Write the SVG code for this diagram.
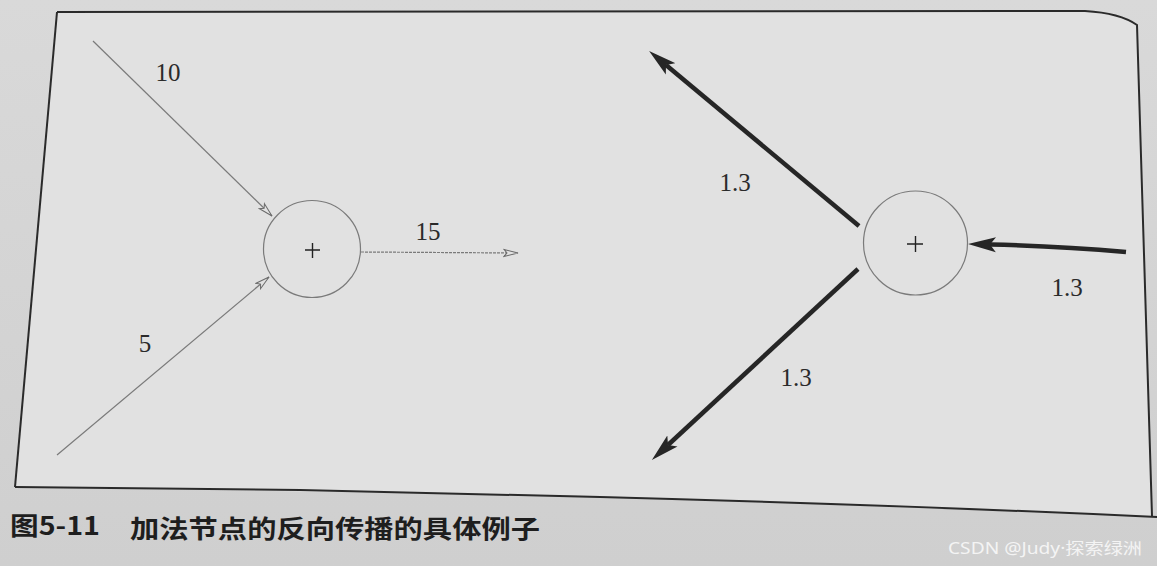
<svg xmlns="http://www.w3.org/2000/svg" width="1157" height="566" viewBox="0 0 1157 566">
  <defs>
    <linearGradient id="bg" x1="0" y1="0" x2="0" y2="1">
      <stop offset="0" stop-color="#d9d9d9"/>
      <stop offset="1" stop-color="#cfcfcf"/>
    </linearGradient>
    <marker id="open" viewBox="0 0 16 10" refX="15" refY="5" markerWidth="16" markerHeight="10" markerUnits="userSpaceOnUse" orient="auto">
      <path d="M1,1.5 L15,5 L1,8.5 L4,5 Z" fill="#e2e2e2" stroke="#6a6a6a" stroke-width="1"/>
    </marker>
    <marker id="solid" viewBox="0 0 28 16" refX="6" refY="8" markerWidth="28" markerHeight="16" markerUnits="userSpaceOnUse" orient="auto">
      <path d="M0,0.5 L28,8 L0,15.5 L6,8 Z" fill="#262626"/>
    </marker>
  </defs>
  <style>
    .frame { fill: none; stroke: #2a2a2a; stroke-width: 2; }
    .node circle { fill: none; stroke: #7a7a7a; stroke-width: 1.2; }
    .plus { stroke: #222; stroke-width: 1.4; }
    .thin { fill: none; stroke: #7a7a7a; stroke-width: 1.2; marker-end: url(#open); }
    .thick { fill: none; stroke: #262626; stroke-width: 4.5; marker-end: url(#solid); }
    .lbl { font-family: "Liberation Serif", "DejaVu Serif", serif; font-size: 25px; fill: #2a2a2a; }
    .cap { font-family: "Noto Sans CJK SC", "Noto Sans", sans-serif; font-weight: bold; font-size: 25px; fill: #1e1e1e; }
    .wm { font-family: "Noto Sans", "Noto Sans CJK SC", sans-serif; font-size: 16px; fill: #f4f4f4; }
  </style>

  <rect x="0" y="0" width="1157" height="566" fill="url(#bg)"/>
  <path d="M57,12 L1085,11 Q1120,13 1137,25 L1152,516 L1157,517 L600,496 L15,487 Z" fill="#e1e1e1"/>
  <path class="frame" d="M57,12 L1085,11 Q1120,13 1137,25 L1152,516"/>
  <path class="frame" d="M57,12 L15,487"/>
  <path class="frame" d="M15,487 L300,490 L600,497 Q900,505 1157,517"/>

  <g id="connectors">
    <line class="thin" x1="93" y1="41" x2="272" y2="216"/>
    <line class="thin" x1="57" y1="455" x2="269" y2="277"/>
    <line class="thin" x1="361" y1="252" x2="518" y2="253" stroke-dasharray="3 1"/>
    <path class="thick" d="M1126,252 Q1060,246 990,244.5"/>
    <line class="thick" x1="859" y1="226" x2="666" y2="65"/>
    <line class="thick" x1="858" y1="269" x2="668" y2="445"/>
  </g>

  <g id="node-left" class="node">
    <circle cx="312" cy="249" r="48.5"/>
    <path class="plus" d="M305,250 H320 M312.5,243 V258"/>
  </g>
  <g id="node-right" class="node">
    <circle cx="915.5" cy="243" r="52"/>
    <path class="plus" d="M907,244 H923 M915.5,236 V252"/>
  </g>

  <g id="labels">
    <text class="lbl" x="168" y="81" text-anchor="middle">10</text>
    <text class="lbl" x="145" y="352" text-anchor="middle">5</text>
    <text class="lbl" x="428" y="240" text-anchor="middle">15</text>
    <text class="lbl" x="735" y="191" text-anchor="middle">1.3</text>
    <text class="lbl" x="796" y="386" text-anchor="middle">1.3</text>
    <text class="lbl" x="1067" y="296" text-anchor="middle">1.3</text>
  </g>

  <g id="caption">
    <text class="cap" x="10" y="535" textLength="90" lengthAdjust="spacingAndGlyphs">图5-11</text>
    <text class="cap" x="130" y="538" textLength="410" lengthAdjust="spacingAndGlyphs">加法节点的反向传播的具体例子</text>
  </g>
  <text class="wm" x="948" y="554" textLength="194" lengthAdjust="spacingAndGlyphs">CSDN @Judy·探索绿洲</text>
</svg>
